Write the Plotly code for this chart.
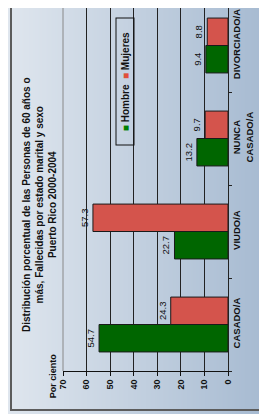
import base64, struct, zlib
import plotly.graph_objects as go

categories = ["CASADO/A", "VIUDO/A", "NUNCA<br>CASADO/A", "DIVORCIADO/A"]
hombre = [54.7, 22.7, 13.2, 9.4]
mujeres = [24.3, 57.3, 9.7, 8.8]
x_ticks = [70, 60, 50, 40, 30, 20, 10, 0]
axis_title = "Por ciento"

OFF = 8                     # page body margin
W, H = 267 - OFF, 414 - OFF  # figure size
SX0, SX1, SY0, SY1 = 63, 228, OFF, 371
ML, MR = SX0 - OFF, W - (SX1 - OFF)
MT, MB = SY0 - OFF, H - (SY1 - OFF)
PW, PH = W - ML - MR, H - MT - MB
BAND = 93.0
y_top = -0.5 + PH / BAND


def px_x(sx):
    return (sx - SX0) / PW


def px_y(sy):
    return 1 - (sy - SY0) / PH


def gradient_png(c0, c1, n=256):
    row = b"\x00"
    for i in range(n):
        t = i / (n - 1)
        row += bytes(int(round(c0[k] + (c1[k] - c0[k]) * t)) for k in range(3))
    def chunk(tag, data):
        return struct.pack(">I", len(data)) + tag + data + struct.pack(">I", zlib.crc32(tag + data) & 0xffffffff)
    png = b"\x89PNG\r\n\x1a\n"
    png += chunk(b"IHDR", struct.pack(">IIBBBBB", n, 1, 8, 2, 0, 0, 0))
    png += chunk(b"IDAT", zlib.compress(row))
    png += chunk(b"IEND", b"")
    return "data:image/png;base64," + base64.b64encode(png).decode()


font = "Liberation Sans, Arial, sans-serif"

fig = go.Figure()
fig.add_trace(go.Bar(
    y=categories, x=hombre, orientation="h", name="Hombre",
    marker=dict(color="#006600", line=dict(color="#1a1a1a", width=1)),
    text=[f"{v:.1f}" for v in hombre], textposition="outside", textangle=-90,
    textfont=dict(family=font, size=9.5, color="#111"), cliponaxis=False,
))
fig.add_trace(go.Bar(
    y=categories, x=mujeres, orientation="h", name="Mujeres",
    marker=dict(color="#d4544c", line=dict(color="#1a1a1a", width=1)),
    text=[f"{v:.1f}" for v in mujeres], textposition="outside", textangle=-90,
    textfont=dict(family=font, size=9.5, color="#111"), cliponaxis=False,
))

fig.update_layout(
    template="none",
    width=W, height=H,
    margin=dict(l=ML, r=MR, t=MT, b=MB, autoexpand=False),
    paper_bgcolor="#c4d0de", plot_bgcolor="rgba(0,0,0,0)",
    barmode="group", bargap=0.41, bargroupgap=0,
    showlegend=False,
    font=dict(family=font, size=9, color="#111"),
    xaxis=dict(
        range=[70, 0], tickvals=x_ticks, ticktext=[str(v) for v in x_ticks],
        tickangle=-90, showgrid=True, gridcolor="#222", gridwidth=1,
        zeroline=False, showline=True, linecolor="#111", linewidth=1,
        ticks="outside", ticklen=4, tickcolor="#111", automargin=False,
        tickfont=dict(family=font, size=9, weight="bold"),
    ),
    yaxis=dict(
        range=[-0.5, y_top], side="right", tickangle=-90, showline=True,
        linecolor="#222", linewidth=1, ticks="outside", ticklen=3,
        tickcolor="#222", tickson="boundaries", showgrid=False,
        zeroline=False, automargin=False,
        tickfont=dict(family=font, size=9.5, weight="bold"),
    ),
    images=[dict(
        source=gradient_png((223, 230, 238), (166, 186, 209)),
        xref="paper", yref="paper", x=px_x(OFF), y=px_y(OFF),
        sizex=W / PW, sizey=H / PH, sizing="stretch", layer="below",
        xanchor="left", yanchor="top",
    )],
    shapes=[
        dict(type="rect", xref="paper", yref="paper",
             x0=px_x(11), x1=px_x(263), y0=px_y(410), y1=px_y(0),
             line=dict(color="#5c5c5c", width=2), fillcolor="rgba(0,0,0,0)"),
        dict(type="line", xref="paper", yref="paper",
             x0=0, x1=0, y0=0, y1=1, line=dict(color="#888", width=1)),
    ],
    annotations=[
        dict(text="Distribución porcentual de las Personas de 60 años o<br>"
                  "más, Fallecidas por estado marital y sexo<br>"
                  "Puerto Rico 2000-2004",
             xref="paper", yref="paper", x=px_x(39), y=px_y(205),
             xanchor="center", yanchor="middle",
             textangle=-90, showarrow=False, align="center",
             font=dict(family=font, size=10, color="#111", weight="bold")),
        dict(text='<span style="color:#111">' + axis_title + '</span>',
             xref="paper", yref="paper", x=px_x(53), y=px_y(376),
             xanchor="center", yanchor="middle", width=58, height=12,
             textangle=-90, showarrow=False, bgcolor="rgba(0,0,0,0)",
             bordercolor="rgba(0,0,0,0)", borderwidth=1, borderpad=0,
             font=dict(family=font, size=9, color="#111", weight="bold")),
        dict(text='<span style="color:#008000">■</span> Hombre  '
                  '<span style="color:#e0503a">■</span> Mujeres',
             xref="paper", yref="paper", x=px_x(124.5), y=px_y(82),
             xanchor="center", yanchor="middle", width=124, height=15,
             textangle=-90, showarrow=False, bgcolor="rgba(0,0,0,0)",
             bordercolor="#111", borderwidth=1, borderpad=1,
             font=dict(family=font, size=10, color="#111", weight="bold")),
    ],
)

fig.write_html("out.html")
